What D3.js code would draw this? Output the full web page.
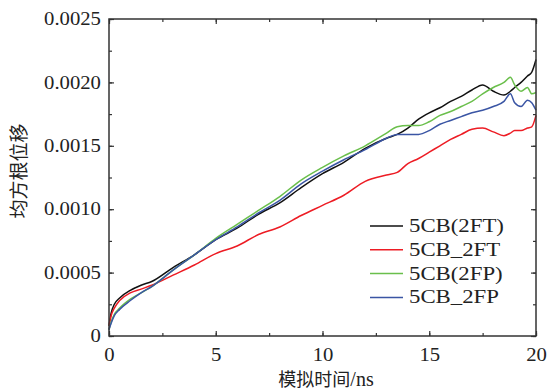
<!DOCTYPE html>
<html>
<head>
<meta charset="utf-8">
<script src="https://cdn.jsdelivr.net/npm/d3@7"></script>
<style>
body { margin: 0; background: #fff; }
svg { display: block; }
.tick text { font-family: 'Liberation Serif', serif; font-size: 18px; fill: #222; }
</style>
</head>
<body>
<svg width="547" height="390"></svg>
<script>
var time = [0, 0.1, 0.25, 0.5, 1, 1.5, 2, 3, 4, 5, 6, 7, 8, 9, 10, 11, 12, 13, 13.5, 14, 14.5, 15, 15.5, 16, 16.5, 17, 17.5, 18, 18.5, 18.8, 19, 19.3, 19.6, 19.8, 20];
var black2FT = [0.00008, 0.00018, 0.00025, 0.00030, 0.00036, 0.00040, 0.00043, 0.00054, 0.00064, 0.00076, 0.00085, 0.00096, 0.00105, 0.00117, 0.00128, 0.00137, 0.00148, 0.00156, 0.00159, 0.00164, 0.00171, 0.00176, 0.00180, 0.00185, 0.00189, 0.00194, 0.00198, 0.00193, 0.00190, 0.00193, 0.00196, 0.00200, 0.00205, 0.00208, 0.00218];
var red2FT = [0.00008, 0.00016, 0.00022, 0.00028, 0.00034, 0.00037, 0.00040, 0.00048, 0.00056, 0.00065, 0.00071, 0.00080, 0.00086, 0.00095, 0.00103, 0.00111, 0.00122, 0.00127, 0.00129, 0.00136, 0.00140, 0.00145, 0.00150, 0.00155, 0.00159, 0.00163, 0.00164, 0.00161, 0.00158, 0.00160, 0.00162, 0.00162, 0.00164, 0.00165, 0.00174];
var green2FP = [0.00005, 0.00011, 0.00017, 0.00022, 0.00029, 0.00034, 0.00039, 0.00052, 0.00064, 0.00077, 0.00088, 0.00099, 0.00110, 0.00123, 0.00133, 0.00142, 0.00150, 0.00160, 0.00165, 0.00166, 0.00166, 0.00169, 0.00174, 0.00177, 0.00181, 0.00185, 0.00191, 0.00196, 0.00200, 0.00204, 0.00198, 0.00193, 0.00196, 0.00191, 0.00192];
var blue2FP = [0.00005, 0.00010, 0.00016, 0.00021, 0.00028, 0.00034, 0.00039, 0.00052, 0.00064, 0.00076, 0.00086, 0.00097, 0.00107, 0.00120, 0.00130, 0.00139, 0.00147, 0.00156, 0.00159, 0.00159, 0.00159, 0.00162, 0.00167, 0.00170, 0.00173, 0.00176, 0.00178, 0.00181, 0.00185, 0.00191, 0.00184, 0.00181, 0.00186, 0.00184, 0.00178];
var seriesNames = ['5CB(2FT)', '5CB_2FT', '5CB(2FP)', '5CB_2FP'];
var seriesColors = ['#111111', '#ed1c24', '#6abf4b', '#3a55a4'];
var xTicks = [0, 5, 10, 15, 20];
var yTicks = [0, 0.0005, 0.001, 0.0015, 0.002, 0.0025];
var yTickLabels = ['0', '0.0005', '0.0010', '0.0015', '0.0020', '0.0025'];

var svg = d3.select('svg');
var plotLeft = 109, plotRight = 536, plotTop = 19, plotBottom = 336;

var x = d3.scaleLinear().domain([0, 20]).range([plotLeft, plotRight]);
var y = d3.scaleLinear().domain([0, 0.0025]).range([plotBottom, plotTop]);

var allSeries = [black2FT, red2FT, green2FP, blue2FP];

// axes with inward ticks
var xMinor = d3.range(0, 20.01, 2.5);
var yMinor = d3.range(0, 0.0025001, 0.00025);

function styleAxis(g) {
	g.select('.domain').remove();
	g.selectAll('.tick line').attr('stroke', '#333').attr('stroke-width', 1.2);
}

svg.append('g').attr('transform', 'translate(0,' + plotBottom + ')')
	.call(d3.axisBottom(x).tickValues(xMinor).tickSize(-3).tickFormat(''))
	.call(styleAxis);
svg.append('g').attr('transform', 'translate(0,' + plotBottom + ')')
	.call(d3.axisBottom(x).tickValues(xTicks).tickSize(-5).tickPadding(12).tickFormat(d3.format('d')))
	.call(styleAxis)
	.selectAll('text').attr('transform', 'scale(1.15,1)');
svg.append('g').attr('transform', 'translate(0,' + plotTop + ')')
	.call(d3.axisTop(x).tickValues(xMinor).tickSize(-3).tickFormat(''))
	.call(styleAxis);
svg.append('g').attr('transform', 'translate(0,' + plotTop + ')')
	.call(d3.axisTop(x).tickValues(xTicks).tickSize(-5).tickFormat(''))
	.call(styleAxis);

svg.append('g').attr('transform', 'translate(' + plotLeft + ',0)')
	.call(d3.axisLeft(y).tickValues(yMinor).tickSize(-3).tickFormat(''))
	.call(styleAxis);
svg.append('g').attr('transform', 'translate(' + plotLeft + ',0)')
	.call(d3.axisLeft(y).tickValues(yTicks).tickSize(-5).tickPadding(7)
		.tickFormat(function(d, i) { return yTickLabels[i]; }))
	.call(styleAxis)
	.selectAll('text').attr('transform', 'scale(1.15,1)');
svg.append('g').attr('transform', 'translate(' + plotRight + ',0)')
	.call(d3.axisRight(y).tickValues(yMinor).tickSize(-3).tickFormat(''))
	.call(styleAxis);
svg.append('g').attr('transform', 'translate(' + plotRight + ',0)')
	.call(d3.axisRight(y).tickValues(yTicks).tickSize(-5).tickFormat(''))
	.call(styleAxis);

// lines
var line = d3.line()
	.x(function(d, i) { return x(time[i]); })
	.y(function(d) { return y(d); })
	.curve(d3.curveMonotoneX);

svg.append('g').selectAll('path')
	.data(allSeries)
	.enter()
	.append('path')
	.attr('d', line)
	.attr('fill', 'none')
	.attr('stroke-width', 1.5)
	.attr('stroke', function(d, i) { return seriesColors[i]; });

// frame
svg.append('rect')
	.attr('x', plotLeft).attr('y', plotTop)
	.attr('width', plotRight - plotLeft).attr('height', plotBottom - plotTop)
	.attr('fill', 'none').attr('stroke', '#333').attr('stroke-width', 1.5);

// legend
var legend = svg.append('g').selectAll('g')
	.data(seriesNames)
	.enter()
	.append('g')
	.attr('transform', function(d, i) { return 'translate(370,' + (226 + i * 23.8) + ')'; });

legend.append('line')
	.attr('x1', 0).attr('x2', 33)
	.attr('stroke-width', 1.5)
	.attr('stroke', function(d, i) { return seriesColors[i]; });

legend.append('text')
	.attr('x', 39 / 1.2).attr('y', 6)
	.attr('transform', 'scale(1.2,1)')
	.style('font-family', "'Liberation Serif', serif")
	.style('font-size', '19px')
	.style('fill', '#222')
	.text(function(d) { return d; });

// axis titles
svg.append('text')
	.attr('transform', 'translate(26,171) rotate(-90)')
	.attr('text-anchor', 'middle')
	.style('font-family', "'Noto Sans CJK SC', sans-serif")
	.style('font-size', '19px')
	.style('fill', '#222')
	.text('均方根位移');

var xTitle = svg.append('text')
	.attr('x', 326).attr('y', 386)
	.attr('text-anchor', 'middle')
	.style('font-size', '18px')
	.style('fill', '#222');
xTitle.append('tspan').style('font-family', "'Noto Sans CJK SC', sans-serif").text('模拟时间');
xTitle.append('tspan').style('font-family', "'Liberation Serif', serif").style('font-size', '20px').text('/ns');
</script>
</body>
</html>
